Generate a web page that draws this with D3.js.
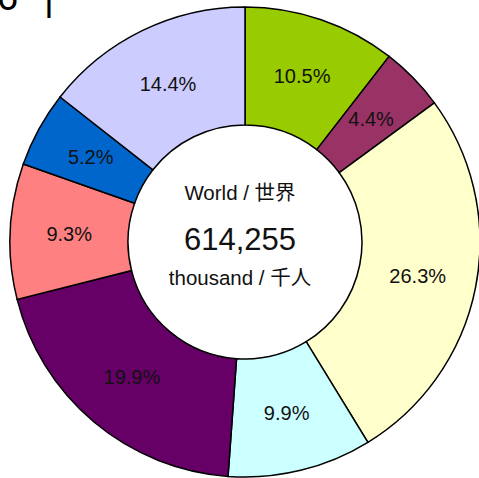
<!DOCTYPE html>
<html>
  <head>
    <meta charset="utf-8">
    <title>World donut</title>
    <style type="text/css">
      body { margin: 0; background: #fff; }
      svg { display: block; font-family: "Liberation Sans", Arial, "Noto Sans CJK JP", sans-serif; }
      .slice { stroke: #000; stroke-width: 1.5; }
      .label { font-size: 20px; fill: #111; text-anchor: middle; }
      .centre { fill: #111; text-anchor: middle; }
    </style>
  </head>
  <body>
    <div id="main"></div>
    <script src="https://d3js.org/d3.v7.min.js"></script>
    <script>
    // slice values in %, clockwise from 12 o'clock
    var shares = [10.5, 4.4, 26.3, 9.9, 19.9, 9.3, 5.2, 14.4];
    var colours = ["#99cc00", "#993366", "#ffffcc", "#ccffff", "#660066", "#ff8080", "#0066cc", "#ccccff"];
    var centreLines = ["World / 世界", "614,255", "thousand / 千人"];

    var width = 479, height = 478,
        cx = 245, cy = 242,
        outer = 235, inner = 117;

    var svg = d3.select("#main")
      .append("svg")
        .attr("width", width)
        .attr("height", height);

    // cut-off title above the chart
    svg.append("text")
        .attr("x", -3).attr("y", 10)
        .style("font-size", "38px")
        .text("6");
    svg.append("text")
        .attr("x", 44).attr("y", 10)
        .style("font-size", "38px")
        .text("|");

    var pie = d3.pie().sort(null).value(function(d) { return d; });
    var arc = d3.arc().innerRadius(inner).outerRadius(outer);

    var g = svg.append("g")
        .attr("transform", "translate(" + cx + "," + cy + ")");

    var arcs = pie(shares);

    g.selectAll("path.slice")
      .data(arcs)
      .enter().append("path")
        .attr("class", "slice")
        .attr("fill", function(d, i) { return colours[i]; })
        .attr("d", arc);

    g.selectAll("text.label")
      .data(arcs)
      .enter().append("text")
        .attr("class", "label")
        .attr("transform", function(d) { return "translate(" + arc.centroid(d) + ")"; })
        .attr("dy", "0.35em")
        .text(function(d) { return d.data.toFixed(1) + "%"; });

    // centre text
    var centreY = [-42, 8, 43];
    var centreSize = [20.5, 31, 20.5];
    g.selectAll("text.centre")
      .data(centreLines)
      .enter().append("text")
        .attr("class", "centre")
        .attr("x", -5)
        .attr("y", function(d, i) { return centreY[i]; })
        .style("font-size", function(d, i) { return centreSize[i] + "px"; })
        .text(function(d) { return d; });
    </script>
  </body>
</html>
